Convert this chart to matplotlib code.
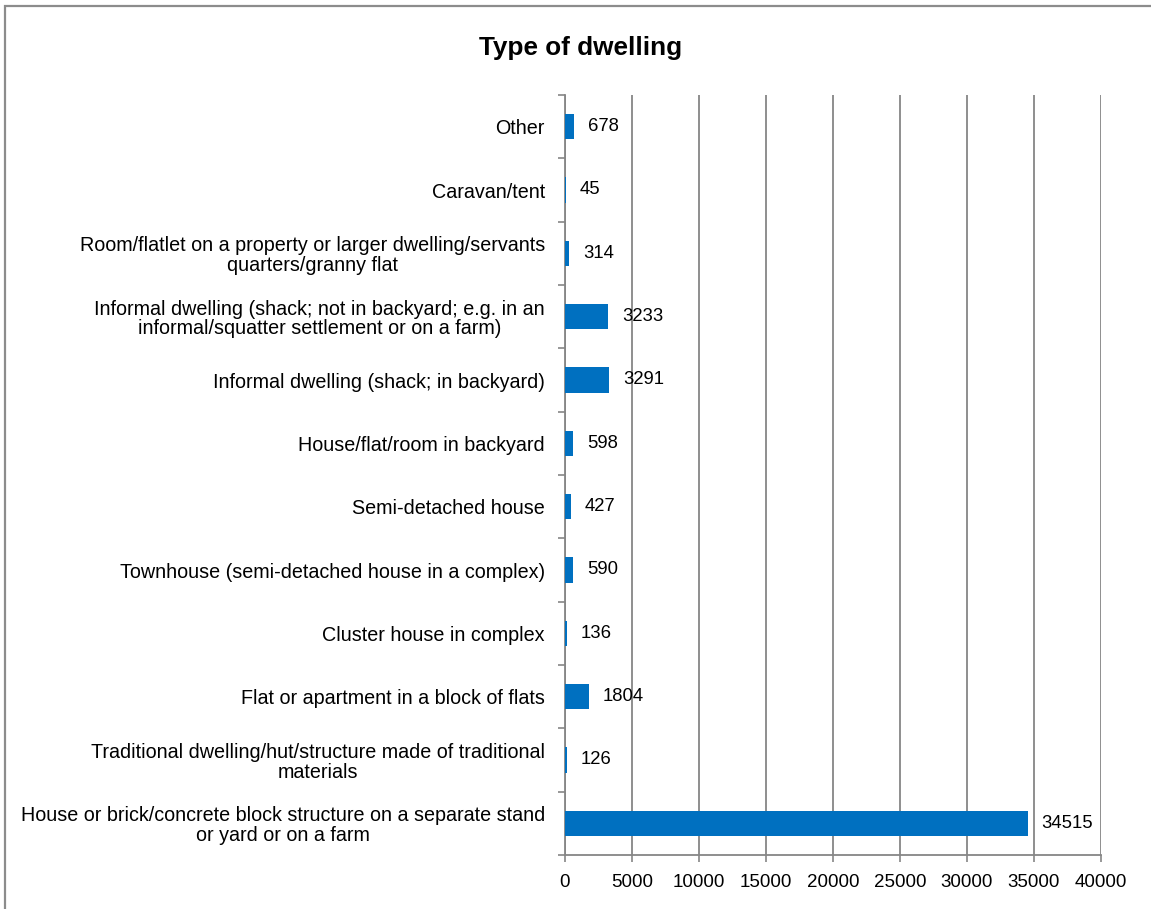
import matplotlib
matplotlib.use("Agg")
import matplotlib.pyplot as plt
from matplotlib.patches import Rectangle
from matplotlib.ticker import MultipleLocator, FixedLocator

plt.rcParams['font.family'] = ['Liberation Sans', 'DejaVu Sans']

categories = [
    "House or brick/concrete block structure on a separate stand\nor yard or on a farm",
    "Traditional dwelling/hut/structure made of traditional\nmaterials",
    "Flat or apartment in a block of flats",
    "Cluster house in complex",
    "Townhouse (semi-detached house in a complex)",
    "Semi-detached house",
    "House/flat/room in backyard",
    "Informal dwelling (shack; in backyard)",
    "Informal dwelling (shack; not in backyard; e.g. in an\ninformal/squatter settlement or on a farm)",
    "Room/flatlet on a property or larger dwelling/servants\nquarters/granny flat",
    "Caravan/tent",
    "Other",
]
counts = [34515, 126, 1804, 136, 590, 427, 598, 3291, 3233, 314, 45, 678]

bar_color = "#0070C0"
axis_gray = "#868686"

fig = plt.figure(figsize=(11.51, 9.09), dpi=100)
ax = fig.add_axes([565 / 1151, 1 - 855 / 909, 536 / 1151, 760 / 909])

ypos = list(range(len(categories)))
ax.barh(ypos, counts, height=0.4, color=bar_color, zorder=3)

for y, v in zip(ypos, counts):
    ax.annotate(str(v), xy=(v, y), xytext=(10, 0), textcoords="offset points",
                ha="left", va="center", fontsize=13.3, color="black", zorder=4)

ax.set_xlim(0, 40000)
ax.set_ylim(-0.5, len(categories) - 0.5)
ax.xaxis.set_major_locator(MultipleLocator(5000))
ax.set_yticks(ypos)
ax.set_yticklabels(categories, multialignment="center", linespacing=1.05)
ax.yaxis.set_minor_locator(FixedLocator([i - 0.5 for i in range(len(categories) + 1)]))

ax.tick_params(axis="y", which="major", length=0, pad=14.5, labelsize=14.2)
ax.tick_params(axis="y", which="minor", length=5, width=1.2, color=axis_gray, direction="out")
ax.tick_params(axis="x", which="major", length=5, width=1.2, color=axis_gray,
               direction="out", pad=9, labelsize=13.5)

ax.grid(axis="x", color=axis_gray, linewidth=1.3, zorder=0)
for side in ("top", "right"):
    ax.spines[side].set_visible(False)
for side in ("left", "bottom"):
    ax.spines[side].set_color(axis_gray)
    ax.spines[side].set_linewidth(1.3)

fig.text(581 / 1151, 1 - 48 / 909, "Type of dwelling", ha="center", va="center",
         fontsize=18.8, fontweight="bold")

# chart-area frame
fig.patches.append(Rectangle((5 / 1151, -0.1), 1.2, 1 - 6 / 909 + 0.1,
                             transform=fig.transFigure, fill=False,
                             edgecolor="#8c8c8c", linewidth=1.6))

fig.savefig("out.png", dpi=100)
